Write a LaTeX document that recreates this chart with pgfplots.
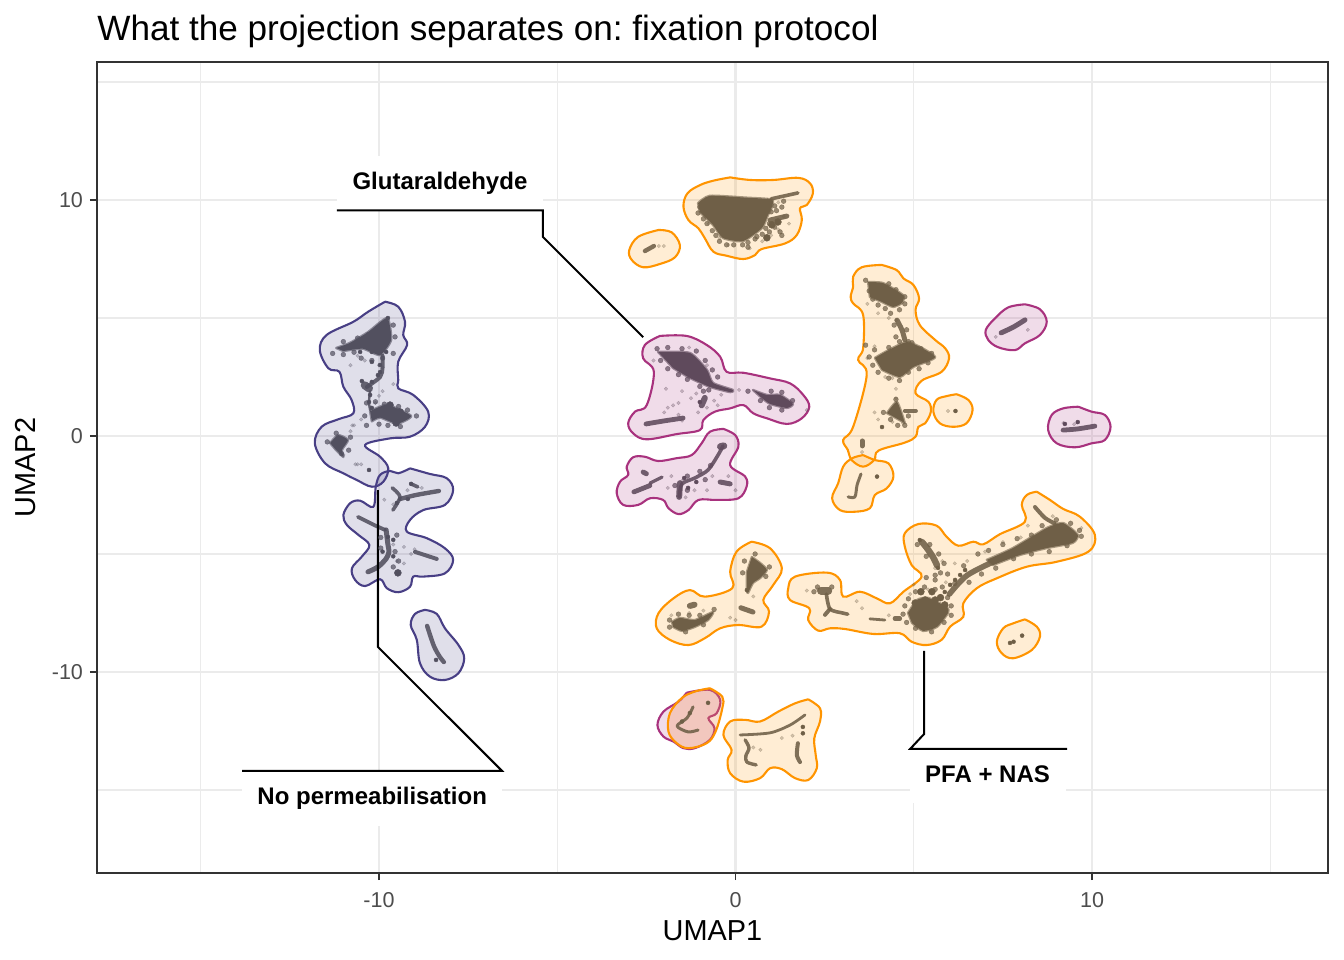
\documentclass[border=0pt]{standalone}
\usepackage{fontspec}
\setmainfont{Liberation Sans}
\usepackage{pgfplots}
\pgfplotsset{compat=1.18}
\definecolor{nv}{HTML}{483F85}
\definecolor{pu}{HTML}{A8327E}
\definecolor{or}{HTML}{FF9400}
\definecolor{overlap}{HTML}{F58D47}
\definecolor{ptnv}{HTML}{52505F}
\definecolor{ptpu}{HTML}{5F4A5C}
\definecolor{ptor}{HTML}{6F5F47}
\definecolor{gridc}{HTML}{EBEBEB}
\definecolor{axc}{HTML}{333333}
\definecolor{tickc}{HTML}{4D4D4D}
\pgfplotsset{
  hull/.style={smooth,tension=0.6,mark=none,draw=#1,fill=#1,fill opacity=0.17,draw opacity=1,line width=1.05bp},
  pt/.style 2 args={only marks,mark=*,color=#2,mark size=#1,mark options={line width=0.2bp}},
  faint/.style={only marks,mark=*,color=#1,mark size=0.9bp,mark options={line width=0.2bp,opacity=0.3}},
  speck/.style={only marks,mark=*,color=#1,mark size=1.2bp,mark options={line width=0.2bp,opacity=0.7}},
  core/.style={smooth,tension=0.35,mark=none,draw=#1,fill=#1,line width=1.2bp,draw opacity=0.6,fill opacity=1,line join=round},
  strand/.style 2 args={mark=none,smooth,color=#2,line width=#1,line cap=round,line join=round,opacity=0.88},
  leader/.style={black,line width=1bp,mark=none,line join=miter},
  whitebox/.style={fill=white,draw=none,mark=none},
}
\begin{document}
\frenchspacing
\begin{tikzpicture}
\path[use as bounding box] (-48.5bp,-43.5bp) rectangle (623.5bp,436.5bp);
\begin{axis}[
  at={(0,0)},anchor=south west,
  scale only axis,width=615.5bp,height=405.5bp,
  xmin=-17.91,xmax=16.62,ymin=-18.52,ymax=15.85,
  xtick={-10,0,10},xticklabels={-10,0,10},
  ytick={-10,0,10},yticklabels={-10,0,10},
  minor xtick={-15,-5,5,15},minor ytick={-15,-5,5,15},
  xtick pos=bottom,ytick pos=left,
  tick align=outside,major tick length=3.5bp,minor tick length=0pt,
  major tick style={axc,line width=0.55bp},
  axis line style={axc,line width=0.65bp},
  grid=both,
  major grid style={gridc,line width=1.2bp},
  minor grid style={gridc,line width=0.7bp},
  ticklabel style={font=\fontsize{10.8}{12}\selectfont,text=tickc},
  xticklabel style={yshift=-2.5bp},
  title={What the projection separates on: fixation protocol},
  title style={at={(axis description cs:0,1)},anchor=base west,inner sep=0pt,yshift=5bp,font=\fontsize{17.63}{20}\selectfont},
  xlabel={UMAP1},
  xlabel style={at={(axis description cs:0.5,0)},anchor=base,inner sep=0pt,yshift=-33.5bp,font=\fontsize{14.5}{16}\selectfont},
  ylabel={UMAP2},
  ylabel style={at={(axis description cs:0,0.5)},anchor=base,inner sep=0pt,yshift=30.5bp,font=\fontsize{14.5}{16}\selectfont},
]
% label boxes knock out the grid
\addplot[whitebox] coordinates {(-11.18,11.86) (-5.40,11.86) (-5.40,9.58) (-11.18,9.58)} --cycle;
\addplot[whitebox] coordinates {(-13.84,-14.19) (-6.55,-14.19) (-6.55,-16.52) (-13.84,-16.52)} --cycle;
\addplot[whitebox] coordinates {(4.90,-13.26) (9.27,-13.26) (9.27,-15.55) (4.90,-15.55)} --cycle;

% no permeabilisation hulls
\addplot[hull=nv] coordinates {(-9.83,5.69) (-9.46,5.48) (-9.27,4.84) (-9.32,4.28) (-9.21,3.86) (-9.46,3.15) (-9.46,2.37) (-9.46,2.02) (-9.04,1.74) (-8.62,1.03) (-8.71,0.39) (-9.13,-0.03) (-9.69,-0.10) (-10.39,-0.38) (-9.97,-0.88) (-9.74,-1.37) (-9.88,-1.94) (-10.20,-2.15) (-10.63,-1.86) (-11.00,-1.58) (-11.51,-1.16) (-11.80,-0.31) (-11.61,0.39) (-11.14,0.71) (-10.72,0.96) (-10.77,1.53) (-11.00,2.09) (-11.11,2.72) (-11.42,2.87) (-11.66,3.64) (-11.47,4.28) (-10.72,4.84) (-10.30,5.27) (-9.83,5.69)};
\addplot[hull=nv] coordinates {(-9.13,-1.37) (-8.57,-1.61) (-8.10,-1.79) (-7.92,-2.29) (-8.15,-2.92) (-8.76,-3.14) (-9.13,-3.56) (-9.22,-4.05) (-8.66,-4.33) (-8.15,-4.76) (-7.92,-5.25) (-8.15,-5.82) (-8.76,-5.96) (-9.04,-5.96) (-9.13,-6.39) (-9.46,-6.62) (-9.78,-6.45) (-9.97,-6.07) (-10.39,-6.36) (-10.67,-6.10) (-10.76,-5.61) (-10.48,-5.11) (-10.27,-4.62) (-10.58,-4.19) (-10.90,-3.77) (-11.00,-3.35) (-10.81,-2.85) (-10.53,-2.74) (-10.16,-3.00) (-10.09,-2.15) (-9.97,-1.65) (-9.69,-1.48) (-9.46,-1.58) (-9.13,-1.37)};
\addplot[hull=nv] coordinates {(-8.71,-7.37) (-8.38,-7.54) (-8.15,-8.15) (-7.77,-8.86) (-7.61,-9.42) (-7.77,-10.05) (-8.15,-10.34) (-8.57,-10.20) (-8.85,-9.63) (-8.94,-8.64) (-9.11,-8.01) (-8.99,-7.54) (-8.71,-7.37)};

% glutaraldehyde hulls
\addplot[hull=pu] coordinates {(-2.12,4.24) (-1.37,4.24) (-0.81,3.86) (-0.43,3.36) (-0.25,2.72) (0.22,2.68) (0.97,2.44) (1.53,2.23) (1.90,1.74) (2.07,1.24) (1.86,0.75) (1.44,0.51) (0.88,0.75) (0.50,0.96) (0.22,1.31) (-0.15,1.17) (-0.58,1.03) (-0.90,0.68) (-1.00,0.25) (-1.65,0.08) (-2.49,-0.14) (-2.87,0.11) (-3.01,0.54) (-2.82,1.03) (-2.49,1.31) (-2.29,2.72) (-2.59,3.29) (-2.54,3.86) (-2.12,4.24)};
\addplot[hull=pu] coordinates {(-0.34,0.30) (-0.01,0.04) (0.08,-0.45) (-0.15,-1.23) (0.27,-1.72) (0.31,-2.15) (0.08,-2.64) (-0.53,-2.71) (-1.04,-2.71) (-1.32,-3.14) (-1.60,-3.31) (-1.88,-3.06) (-2.03,-2.71) (-2.40,-2.64) (-2.73,-2.92) (-3.15,-2.92) (-3.33,-2.43) (-3.24,-1.94) (-3.01,-1.65) (-3.05,-1.30) (-2.87,-0.90) (-2.54,-0.88) (-2.17,-1.06) (-1.65,-0.94) (-1.23,-0.81) (-0.95,-0.31) (-0.72,0.18) (-0.34,0.30)};
\addplot[hull=pu] coordinates {(8.12,5.58) (8.54,5.37) (8.73,4.84) (8.54,4.28) (8.12,3.93) (7.84,3.64) (7.37,3.76) (7.09,4.07) (7.02,4.49) (7.28,4.99) (7.65,5.45) (8.12,5.58)};
\addplot[hull=pu] coordinates {(9.62,1.24) (9.99,1.03) (10.36,0.89) (10.52,0.39) (10.36,-0.17) (9.99,-0.31) (9.52,-0.48) (9.01,-0.31) (8.77,0.25) (8.87,0.89) (9.19,1.17) (9.62,1.24)};
\addplot[hull=pu] coordinates {(-1.37,-10.88) (-0.72,-10.76) (-0.43,-11.18) (-0.53,-11.75) (-0.76,-11.96) (-0.59,-12.38) (-0.72,-12.88) (-1.14,-13.23) (-1.46,-13.23) (-1.74,-12.95) (-2.02,-12.74) (-2.19,-12.25) (-2.02,-11.68) (-1.60,-11.26) (-1.37,-10.88)};

% PFA + NAS hulls
\addplot[hull=or] coordinates {(-0.15,10.96) (0.41,10.85) (1.06,10.85) (1.76,10.94) (2.09,10.71) (2.17,10.28) (2.00,9.79) (1.81,9.65) (1.86,9.15) (1.72,8.52) (1.39,8.16) (0.73,7.92) (0.55,7.67) (0.22,7.50) (-0.25,7.64) (-0.62,7.81) (-0.86,8.38) (-1.04,8.80) (-1.32,9.15) (-1.46,9.72) (-1.35,10.28) (-1.00,10.63) (-0.62,10.82) (-0.15,10.96)};
\addplot[hull=or] coordinates {(-2.16,8.73) (-1.79,8.63) (-1.56,8.09) (-1.70,7.57) (-2.12,7.29) (-2.59,7.15) (-2.91,7.46) (-2.98,7.88) (-2.73,8.44) (-2.16,8.73)};
\addplot[hull=or] coordinates {(4.10,7.25) (4.52,7.03) (4.71,6.68) (4.99,6.40) (5.15,5.83) (5.05,5.34) (5.17,4.70) (5.60,4.07) (5.88,3.72) (5.99,3.29) (5.78,2.72) (5.22,2.34) (5.05,1.81) (5.41,1.45) (5.48,1.03) (5.32,0.54) (5.13,0.39) (5.05,-0.03) (4.75,-0.28) (4.01,-0.62) (3.89,-1.02) (3.58,-1.30) (3.26,-1.02) (3.15,-0.59) (3.02,-0.17) (3.30,0.39) (3.68,2.58) (3.44,3.22) (3.58,3.72) (3.58,5.13) (3.30,5.62) (3.23,5.90) (3.30,6.33) (3.30,6.75) (3.54,7.15) (4.10,7.25)};
\addplot[hull=or] coordinates {(3.58,-0.81) (3.91,-1.02) (4.29,-1.16) (4.43,-1.72) (4.24,-2.22) (3.91,-2.50) (3.77,-3.06) (3.35,-3.21) (2.93,-3.14) (2.71,-2.64) (2.88,-2.00) (3.02,-1.30) (3.26,-0.95) (3.58,-0.81)};
\addplot[hull=or] coordinates {(6.20,1.77) (6.53,1.53) (6.65,1.10) (6.48,0.54) (6.11,0.39) (5.73,0.54) (5.55,1.03) (5.64,1.53) (5.92,1.69) (6.20,1.77)};
\addplot[hull=or] coordinates {(8.45,-2.36) (8.82,-2.71) (9.19,-3.09) (9.66,-3.42) (10.08,-4.19) (9.90,-4.90) (9.01,-5.33) (8.17,-5.54) (7.33,-6.03) (6.77,-6.45) (6.39,-7.09) (6.39,-7.66) (6.02,-8.08) (5.78,-8.64) (5.36,-8.86) (4.94,-8.72) (4.61,-8.36) (3.87,-8.39) (3.07,-8.18) (2.65,-8.15) (2.32,-8.25) (2.04,-7.80) (2.07,-7.30) (1.53,-6.95) (1.48,-6.45) (1.67,-5.96) (2.56,-5.79) (2.93,-6.10) (3.02,-6.81) (3.49,-6.60) (3.96,-6.88) (4.33,-7.09) (4.71,-6.60) (5.22,-5.96) (4.94,-5.47) (4.75,-4.69) (4.75,-4.12) (5.13,-3.73) (5.64,-3.80) (5.92,-4.27) (6.25,-4.65) (6.67,-4.48) (6.95,-4.59) (7.42,-4.16) (8.12,-3.63) (8.03,-2.92) (8.17,-2.50) (8.45,-2.36)};
\addplot[hull=or] coordinates {(8.12,-7.77) (8.45,-8.08) (8.54,-8.50) (8.31,-9.07) (7.79,-9.42) (7.47,-9.21) (7.33,-8.72) (7.51,-8.15) (7.79,-7.94) (8.12,-7.77)};
\addplot[hull=or] coordinates {(0.45,-4.48) (0.97,-4.76) (1.30,-5.61) (1.06,-6.31) (0.78,-6.95) (0.94,-7.44) (0.73,-8.08) (0.08,-8.01) (-0.43,-8.15) (-0.86,-8.57) (-1.32,-8.86) (-1.84,-8.64) (-2.21,-8.15) (-2.16,-7.51) (-1.74,-6.88) (-1.28,-6.53) (-0.86,-6.81) (-0.09,-6.45) (-0.15,-5.75) (0.03,-4.90) (0.45,-4.48)};
\addplot[hull=or,fill=overlap,fill opacity=0.27] coordinates {(-0.72,-10.69) (-0.37,-11.05) (-0.37,-11.54) (-0.56,-12.53) (-0.81,-13.02) (-1.32,-13.23) (-1.65,-13.02) (-1.88,-12.53) (-1.84,-11.75) (-1.51,-11.11) (-1.14,-10.83) (-0.72,-10.69)};
\addplot[hull=or] coordinates {(2.04,-11.16) (2.37,-11.54) (2.37,-12.10) (2.21,-12.81) (2.25,-13.52) (2.28,-14.08) (2.04,-14.58) (1.67,-14.50) (1.30,-14.12) (0.97,-14.08) (0.69,-14.50) (0.22,-14.65) (-0.15,-14.29) (-0.22,-13.73) (-0.11,-13.30) (-0.34,-12.67) (-0.15,-12.10) (0.27,-12.03) (0.69,-12.10) (1.20,-11.68) (1.67,-11.33) (2.04,-11.16)};

% dense cell cores: navy
\addplot[core=ptnv] coordinates {(-11.2,3.73) (-10.81,3.95) (-10.31,4.4) (-9.77,5.0) (-9.66,4.07) (-9.97,3.43) (-10.45,3.7) (-11.0,3.6)} --cycle;
\addplot[core=ptnv] coordinates {(-10.25,1.05) (-9.77,1.32) (-9.1,0.85) (-9.49,0.52) (-9.97,0.78) (-10.2,0.62)} --cycle;
\addplot[core=ptnv] coordinates {(-11.37,-0.30) (-11.15,0.04) (-10.87,-0.17) (-11.04,-0.59) (-11.0,-0.89) (-11.23,-0.55)} --cycle;
\addplot[strand={2bp}{ptnv}] coordinates {(-9.9,3.4) (-9.9,2.9) (-9.97,2.5) (-10.34,2.08)};
\addplot[strand={4bp}{ptnv}] coordinates {(-10.4,2.15) (-10.28,2.02)};
\addplot[strand={1.2bp}{ptnv}] coordinates {(-10.25,1.9) (-10.28,1.44) (-10.25,1.1)};
\addplot[strand={1.8bp}{ptnv}] coordinates {(-9.63,-2.2) (-9.41,-2.58) (-9.61,-3.14)};
\addplot[strand={2.2bp}{ptnv}] coordinates {(-9.41,-2.67) (-8.96,-2.5) (-8.32,-2.33)};
\addplot[strand={1.8bp}{ptnv}] coordinates {(-9.1,-2.03) (-8.91,-2.16)};
\addplot[strand={1.9bp}{ptnv}] coordinates {(-10.59,-3.43) (-10.14,-3.77) (-9.83,-3.98)};
\addplot[strand={2.5bp}{ptnv}] coordinates {(-9.8,-3.98) (-9.75,-4.6) (-9.72,-4.91) (-9.8,-5.2) (-10.03,-5.55) (-10.31,-5.76)};
\addplot[strand={2bp}{ptnv}] coordinates {(-8.99,-4.91) (-8.38,-5.21)};
\addplot[strand={2.2bp}{ptnv}] coordinates {(-8.65,-8.05) (-8.46,-8.9) (-8.29,-9.37) (-8.18,-9.58)};

% dense cell cores: purple
\addplot[core=ptpu] coordinates {(-2.17,3.56) (-1.28,3.52) (-0.80,2.80) (-0.63,2.25) (-0.07,1.95) (-0.15,1.86) (-0.72,2.08) (-1.28,2.46) (-1.75,2.88)} --cycle;
\addplot[core=ptpu] coordinates {(0.49,1.95) (0.88,1.74) (1.25,1.74) (1.61,1.36) (1.44,1.19) (0.97,1.36) (0.74,1.61)} --cycle;
\addplot[strand={2.4bp}{ptpu}] coordinates {(-2.51,0.51) (-2.0,0.64) (-1.47,0.76)};
\addplot[strand={3bp}{ptpu}] coordinates {(-0.86,1.61) (-0.95,1.3)};
\addplot[strand={1.8bp}{ptpu}] coordinates {(-0.35,-0.42) (-0.49,-0.81) (-0.77,-1.44) (-1.14,-1.78) (-1.50,-2.03) (-1.58,-2.58)};
\addplot[strand={3.5bp}{ptpu}] coordinates {(-0.42,-0.45) (-0.33,-0.42)};
\addplot[strand={2.5bp}{ptpu}] coordinates {(-0.43,-1.95) (-0.15,-2.03)};
\addplot[strand={2.5bp}{ptpu}] coordinates {(-2.59,-1.53) (-2.5,-1.6)};
\addplot[strand={1.6bp}{ptpu}] coordinates {(-2.06,-1.74) (-2.4,-2.0)};
\addplot[strand={2.4bp}{ptpu}] coordinates {(-2.4,-2.1) (-2.85,-2.37)};
\addplot[strand={3bp}{ptpu}] coordinates {(-1.56,-2.0) (-1.58,-2.58)};
\addplot[strand={2.5bp}{ptpu}] coordinates {(7.45,4.37) (7.8,4.62) (8.12,4.92)};
\addplot[strand={2.4bp}{ptpu}] coordinates {(9.19,0.25) (9.6,0.30) (10.08,0.42)};

% dense cell cores: brown
\addplot[core=ptor] coordinates {(-1.05,9.87) (-0.72,10.18) (0.3,10.1) (1.02,10.02) (1.02,9.7) (0.91,9.36) (0.74,8.81) (0.21,8.26) (-0.35,8.39) (-0.63,8.94) (-1.0,9.49)} --cycle;
\addplot[strand={1.8bp}{ptor}] coordinates {(1.0,10.05) (1.75,10.30)};
\addplot[strand={2.5bp}{ptor}] coordinates {(0.97,9.15) (1.44,9.32)};
\addplot[core=ptor] coordinates {(3.72,6.52) (4.14,6.48) (4.70,5.97) (4.67,5.64) (4.42,5.47) (4.11,5.68) (3.77,5.89)} --cycle;
\addplot[strand={2.5bp}{ptor}] coordinates {(4.53,4.91) (4.67,4.49) (4.75,4.07)};
\addplot[core=ptor] coordinates {(3.91,3.31) (4.81,3.98) (5.60,3.35) (4.98,2.92) (4.61,2.50) (4.11,2.80)} --cycle;
\addplot[core=ptor] coordinates {(4.25,0.97) (4.53,1.44) (4.75,0.55)} --cycle;
\addplot[strand={2bp}{ptor}] coordinates {(4.75,1.06) (5.06,1.06)};
\addplot[core=ptor] coordinates {(4.84,-7.50) (5.09,-6.95) (5.40,-6.86) (5.93,-7.25) (5.96,-7.50) (5.65,-8.09) (5.26,-8.26) (4.95,-7.92)} --cycle;
\addplot[core=ptor] coordinates {(7.05,-5.25) (7.78,-4.75) (8.73,-3.90) (9.19,-3.69) (9.60,-4.19) (9.46,-4.53) (8.73,-4.75) (7.98,-5.04) (7.22,-5.47)} --cycle;
\addplot[strand={2.8bp}{ptor}] coordinates {(6.0,-6.7) (6.5,-5.9) (7.35,-5.25)};
\addplot[strand={3.2bp}{ptor}] coordinates {(5.23,-4.49) (5.37,-4.75) (5.54,-5.13) (5.65,-5.47)};
\addplot[strand={2bp}{ptor}] coordinates {(8.40,-3.01) (8.68,-3.47) (8.95,-3.7)};
\addplot[strand={4bp}{ptor}] coordinates {(2.40,-6.55) (2.6,-6.55)};
\addplot[strand={1.8bp}{ptor}] coordinates {(2.55,-6.7) (2.65,-7.33) (3.0,-7.5) (3.15,-7.55)};
\addplot[strand={2bp}{ptor}] coordinates {(2.51,-7.58) (2.65,-7.33)};
\addplot[strand={1.4bp}{ptor}] coordinates {(3.77,-7.75) (4.19,-7.8)};
\addplot[strand={2.2bp}{ptor}] coordinates {(4.47,-7.74) (4.61,-7.74)};
\addplot[core=ptor] coordinates {(0.46,-5.13) (0.69,-5.38) (0.88,-5.68) (0.69,-6.02) (0.49,-6.23) (0.35,-6.65) (0.32,-6.53) (0.32,-5.76)} --cycle;
\addplot[strand={2.5bp}{ptor}] coordinates {(0.15,-7.28) (0.49,-7.46)};
\addplot[core=ptor] coordinates {(-1.78,-7.88) (-1.56,-7.71) (-1.14,-7.80) (-0.63,-7.46) (-0.77,-7.80) (-1.14,-8.09) (-1.50,-8.26) (-1.75,-8.09)} --cycle;
\addplot[strand={3bp}{ptor}] coordinates {(-1.28,-7.2) (-1.15,-7.15)};
\addplot[strand={1.5bp}{ptor}] coordinates {(-1.19,-11.48) (-1.36,-11.95) (-1.64,-12.29) (-1.33,-12.54) (-1.05,-12.46)};
\addplot[strand={1.4bp}{ptor}] coordinates {(0.13,-12.67) (0.97,-12.58) (1.53,-12.25) (1.95,-11.82)};
\addplot[strand={1.7bp}{ptor}] coordinates {(0.27,-12.88) (0.38,-13.22) (0.29,-13.56) (0.32,-13.82) (0.58,-13.94)};
\addplot[strand={2bp}{ptor}] coordinates {(1.75,-13.02) (1.72,-13.52) (1.81,-13.82)};
\addplot[strand={2.2bp}{ptor}] coordinates {(-2.54,7.84) (-2.29,8.05)};
\addplot[strand={1.5bp}{ptor}] coordinates {(3.52,-1.61) (3.41,-2.08) (3.35,-2.58) (3.16,-2.58)};
\addplot[strand={2.5bp}{ptor}] coordinates {(3.55,-0.21) (3.55,-0.42)};

% cells: navy
\addplot[faint=ptnv] coordinates {(-10.8,3.0) (-10.4,3.2) (-10.6,3.4) (-10,3.0) (-9.9,2.9) (-9.6,2.2) (-9.9,1.9) (-10,1.7) (-10.1,1.4) (-10.5,0.7) (-10.7,0.45) (-11.0,-0.8) (-10.8,0.2) (-10.5,-1.2) (-10.6,-1.2) (-9.3,-4.7) (-9.0,-4.8) (-9.6,-4.6) (-9.3,-5.4) (-9.5,-5.3) (-9.1,-5.0) (-9.6,-2.9) (-9.85,-2.7) (-8.8,-2.2) (-9.2,-2.3) (-10.75,0.45) (-10.66,-1.2)};
\addplot[speck=ptnv] coordinates {(-11.3,3.5) (-11.0,3.45) (-10.7,3.55) (-10.5,3.3) (-10.2,3.2) (-9.9,3.3) (-9.6,3.5) (-9.55,4.2) (-9.6,4.7) (-10.0,4.55) (-10.3,4.3) (-10.6,4.15) (-11.0,4.0) (-10.35,1.4) (-10.1,1.45) (-9.85,1.35) (-9.45,1.25) (-9.2,1.1) (-8.95,0.85) (-9.4,0.4) (-9.75,0.45) (-10.0,0.5) (-10.35,0.45) (-10.4,0.85) (-11.45,-0.25) (-11.2,0.12) (-10.8,-0.05) (-11.05,-0.75) (-10.85,-0.6) (-9.5,-4.2) (-9.95,-4.3) (-9.55,-4.9) (-9.95,-4.75) (-9.45,-5.3) (-9.6,-5.55)};
\addplot[pt={1.75bp}{ptnv}] coordinates {(-9.47,-5.80) (-9.52,0.55) (-9.69,1.31) (-9.41,1.02)};
\addplot[pt={1bp}{ptnv}] coordinates {(-9.75,5.00) (-10.20,3.56) (-9.97,3.64) (-9.80,3.56) (-10.53,3.56) (-10.20,3.14) (-9.97,3.01) (-9.97,2.71) (-10.48,2.33) (-10.20,2.29) (-10.03,2.58) (-10.25,1.74) (-10.28,1.44) (-10.20,1.19) (-10.28,-1.44) (-9.19,-2.67) (-9.50,-2.84) (-9.10,-2.03) (-9.75,-4.28) (-9.60,-4.4) (-9.9,-4.9) (-9.6,-5.1) (-8.40,-9.49)};

% cells: purple
\addplot[faint=ptpu] coordinates {(-1.5,1.9) (-1.6,1.4) (-1.75,1.3) (-1.9,1.2) (-1.25,1.6) (-1.1,1.8) (-1.05,1.0) (-0.8,1.2) (-1.5,0.65) (-1.6,0.9) (-0.6,1.5) (-0.5,1.3) (-0.4,1.75) (0.1,1.95) (2,1.1) (-1.95,2.0) (-2.0,1.0) (-2.3,3.2) (-1.3,3.75) (-0.8,3) (-1.5,-1.9) (-1.8,-1.7) (-1.9,-2.2) (-0.65,-1.7) (-0.8,-2.3) (-0.2,-1.7) (0,-2.3) (-1.15,-2.3) (-1.4,-2.6) (8.2,4.5) (7.3,4.2) (9.2,0.55) (9.5,0.5)};
\addplot[speck=ptpu] coordinates {(-2.2,3.7) (-1.9,3.75) (-1.5,3.7) (-1.1,3.6) (-0.85,3.2) (-0.65,2.8) (-0.5,2.5) (-1.35,2.4) (-1.6,2.6) (-1.9,2.85) (-2.1,3.2) (-1.0,2.1) (-0.75,1.95) (0.35,1.9) (1.0,1.9) (1.3,1.85) (1.6,1.5) (1.3,1.1) (0.95,1.2) (0.7,1.5) (-0.9,1.9) (-1.7,-2.1) (-1.35,-1.7) (-1.0,-1.5) (-0.7,-1.25) (-0.85,-1.85) (-1.35,-2.3)};
\addplot[pt={1bp}{ptpu}] coordinates {(-1.44,-1.78) (-1.33,-2.2) (-1.1,-1.95) (9.24,0.51) (9.60,0.59) (-1.0,1.44)};

% cells: brown
\addplot[faint=ptor] coordinates {(-0.95,9.6) (-0.75,9.0) (-0.45,8.4) (-0.2,8.1) (0.4,7.95) (0.75,8.25) (1.0,8.5) (1.2,8.75) (1.35,9.3) (1.5,9.0) (1.2,9.9) (0.9,10.0) (3.7,5.6) (4.3,5.0) (4.0,5.2) (4.5,4.9) (3.7,3.3) (3.9,3.8) (4.2,2.5) (4.4,2.45) (4.5,2.0) (4.5,1.6) (3.9,1.0) (4.0,0.7) (4.7,0.55) (4.4,0.6) (5.8,-5.3) (6.15,-5.4) (5.9,-6.2) (5.0,-6.3) (4.9,-6.7) (5.4,-6.5) (5.6,-5.6) (6.5,-5.3) (7,-4.9) (7.5,-4.5) (8,-4.3) (9.7,-3.9) (9.0,-3.7) (8.2,-3.8) (2.0,-6.55) (2.3,-6.5) (3.55,-7.3) (3.4,-7.0) (4.3,-7.6) (8.9,-3.4) (0,-7.8) (-0.15,-7.7) (0.5,-6.8) (-1.3,-7.5) (-1.8,-7.6) (-0.9,-7.4) (0.5,-13.2) (0.7,-13.3) (1.3,-12.8) (1.6,-12.7) (-2.15,8.05) (-2.01,8.05) (5.96,1.06) (3.55,-0.68)};
\addplot[speck=ptor] coordinates {(-1.0,9.7) (-1.05,9.45) (-0.9,9.2) (-0.8,9.0) (-0.65,8.7) (-0.55,8.5) (-0.45,8.25) (-0.25,8.1) (-0.05,8.1) (0.2,8.1) (0.35,8.2) (0.55,8.35) (0.75,8.55) (0.85,8.8) (0.95,9.0) (1.1,8.85) (0.6,8.45) (0.35,8.0) (1.0,9.5) (1.15,9.55) (1.1,9.75) (1.3,9.7) (1.35,9.95) (0.95,8.65) (1.25,8.65) (1.3,8.5) (3.75,6.15) (3.85,5.8) (4.0,5.55) (4.2,5.4) (4.35,5.2) (4.6,5.35) (4.75,5.6) (4.75,5.9) (3.65,6.6) (4.3,6.45) (4.5,6.2) (4.45,4.7) (4.8,4.5) (4.5,4.2) (4.85,4.0) (3.75,3.35) (3.85,3.0) (4.0,2.7) (4.3,2.45) (4.6,2.35) (4.85,2.7) (5.15,2.85) (5.4,3.1) (5.5,3.5) (5.2,3.7) (4.95,3.95) (4.6,4.0) (4.3,3.75) (3.9,3.65) (3.65,3.85) (4.15,1.0) (4.35,0.7) (4.55,0.45) (4.75,0.45) (4.85,0.85) (4.5,1.55) (4.75,-7.2) (4.85,-6.9) (5.05,-6.6) (5.3,-6.4) (5.6,-6.5) (5.8,-6.4) (5.95,-6.85) (6.05,-7.2) (6.05,-7.6) (5.85,-7.9) (5.5,-8.3) (5.05,-8.15) (4.8,-7.9) (4.7,-7.55) (5.35,-6.0) (5.6,-6.1) (5.75,-5.8) (6.15,-6.25) (5.95,-5.85) (6.4,-5.5) (6.8,-5.0) (7.1,-4.85) (7.5,-4.6) (7.9,-4.35) (8.3,-4.2) (8.6,-3.8) (9.0,-3.55) (9.4,-3.7) (9.65,-4.0) (9.7,-4.25) (9.3,-4.65) (8.8,-4.9) (8.3,-5.0) (7.8,-5.2) (7.3,-5.6) (6.9,-5.85) (6.55,-6.2) (5.1,-4.6) (5.45,-4.6) (5.7,-5.0) (5.35,-5.1) (5.85,-5.4) (5.6,-5.9) (0.25,-5.3) (0.2,-5.8) (0.95,-5.55) (0.85,-5.95) (0.55,-5.0) (-1.85,-7.8) (-1.6,-7.55) (-1.3,-7.6) (-1.0,-7.6) (-0.6,-7.35) (-1.4,-8.3) (-1.85,-8.1) (-0.9,-8.0) (2.3,-6.4) (2.7,-6.4) (2.2,-6.6)};
\addplot[pt={1.75bp}{ptor}] coordinates {(1.19,9.07) (1.02,8.95) (0.88,8.4) (5.87,-7.16) (5.04,-7.08) (5.32,-6.95) (5.51,-6.6) (5.6,-6.95) (5.75,-6.85) (5.2,-6.6)};
\addplot[pt={1bp}{ptor}] coordinates {(4.11,0.38) (3.97,-1.72) (6.17,1.06) (5.60,-6.95) (5.87,-6.61) (6.02,-6.31) (6.16,-6.10) (6.30,-5.89) (6.44,-5.68) (5.17,-4.41) (5.68,-5.59) (7.80,-8.72) (8.04,-8.46) (7.70,-8.77) (-0.77,-11.31) (1.89,-12.33) (1.89,-12.6) (0.32,-6.53) (-1.5,-12.1) (-1.28,-11.74)};

% leader lines
\addplot[leader] coordinates {(-11.18,9.56) (-5.40,9.56) (-5.40,8.43) (-2.59,4.19)};
\addplot[leader] coordinates {(-10.03,-2.29) (-10.03,-8.94) (-6.55,-14.19) (-13.84,-14.19)};
\addplot[leader] coordinates {(5.29,-9.11) (5.29,-12.63) (4.90,-13.26) (9.30,-13.26)};

\node[font=\fontsize{12.05}{14}\selectfont\bfseries] at (axis cs:-8.29,10.72) {Glutaraldehyde};
\node[font=\fontsize{12.05}{14}\selectfont\bfseries] at (axis cs:-10.19,-15.35) {No permeabilisation};
\node[font=\fontsize{12.05}{14}\selectfont\bfseries] at (axis cs:7.07,-14.35) {PFA + NAS};
\end{axis}
\end{tikzpicture}
\end{document}
